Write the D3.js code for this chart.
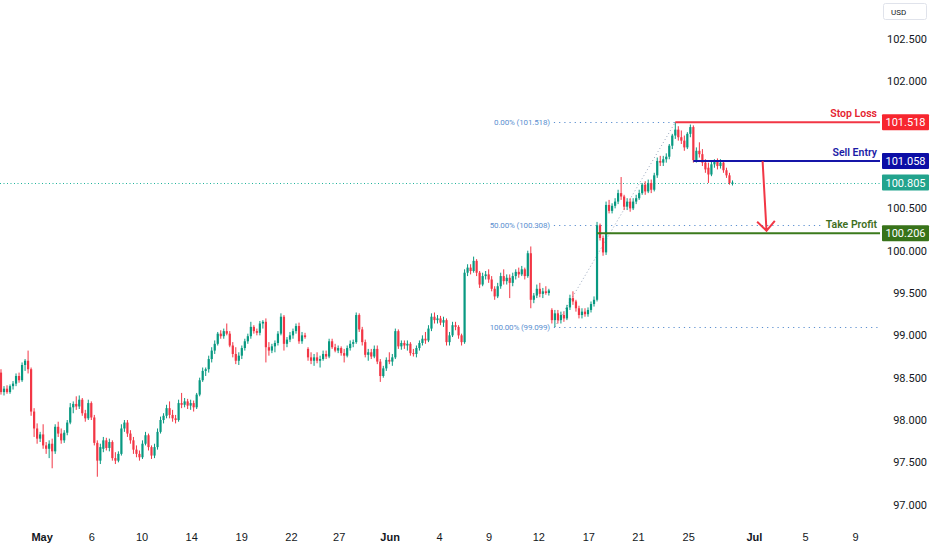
<!DOCTYPE html>
<html>
<head>
<meta charset="utf-8">
<script src="https://cdn.jsdelivr.net/npm/d3@7"></script>
<style>
html,body{margin:0;padding:0;background:#fff;}
svg{display:block;font-family:Roboto,"Liberation Sans",sans-serif;}
</style>
</head>
<body>
<svg id="chart" width="932" height="550"></svg>
<script>
// ---------- DATA ----------
const open = [98.56,98.33,98.37,98.33,98.40,98.43,98.52,98.47,98.65,98.70,98.60,98.10,97.90,97.78,97.83,97.70,97.66,97.72,97.63,97.92,
97.84,97.76,97.85,97.97,98.15,98.19,98.16,98.24,98.08,98.02,98.20,98.03,97.73,97.52,97.66,97.76,97.67,97.74,97.55,97.52,
97.60,97.90,97.97,97.84,97.76,97.65,97.60,97.56,97.72,97.82,97.68,97.58,97.68,97.86,98.00,98.05,98.14,98.06,98.02,98.00,
98.20,98.18,98.22,98.17,98.20,98.15,98.30,98.47,98.58,98.60,98.72,98.82,98.90,99.02,98.99,99.05,99.02,98.88,98.78,98.70,
98.76,98.85,98.93,98.99,99.10,99.05,99.03,99.14,99.16,98.86,98.82,98.87,98.91,99.02,99.22,98.90,98.95,99.00,99.05,99.11,
98.93,99.00,98.84,98.74,98.70,98.74,98.70,98.72,98.78,98.75,98.93,98.86,98.82,98.85,98.79,98.76,98.85,98.90,98.92,99.24,
99.07,98.92,98.77,98.80,98.75,98.84,98.69,98.52,98.61,98.71,98.69,98.74,99.05,98.87,98.91,98.88,98.90,98.79,98.78,98.85,
98.91,98.96,98.94,99.08,99.22,99.18,99.20,99.15,99.18,98.92,99.00,99.12,99.10,99.00,98.92,99.74,99.80,99.76,99.88,99.74,
99.60,99.70,99.72,99.66,99.55,99.46,99.58,99.70,99.64,99.68,99.62,99.70,99.75,99.72,99.78,99.70,99.97,99.42,99.47,99.55,
99.49,99.52,99.50,99.30,99.18,99.26,99.18,99.24,99.20,99.33,99.44,99.40,99.32,99.24,99.28,99.25,99.30,99.37,99.42,100.30,
100.15,99.98,100.54,100.47,100.53,100.58,100.68,100.64,100.52,100.58,100.50,100.58,100.62,100.68,100.78,100.70,100.80,100.72,100.89,101.06,
101.04,101.08,101.11,101.24,101.36,101.43,101.34,101.30,101.22,101.38,101.46,101.07,101.18,101.14,101.04,100.98,100.90,101.02,101.05,101.00,
101.04,100.95,100.89,100.79];
const high = [98.60,98.40,98.41,98.42,98.46,98.55,98.56,98.68,98.72,98.82,98.62,98.14,97.96,97.86,97.95,97.74,97.76,97.78,97.95,97.98,
97.90,97.88,98.00,98.20,98.22,98.28,98.29,98.26,98.12,98.24,98.22,98.06,97.76,97.72,97.80,97.79,97.78,97.76,97.62,97.63,
97.95,98.00,98.00,97.88,97.80,97.70,97.64,97.76,97.86,97.84,97.70,97.72,97.90,98.04,98.08,98.18,98.22,98.12,98.06,98.24,
98.32,98.26,98.25,98.24,98.23,98.32,98.50,98.62,98.62,98.76,98.86,98.94,99.04,99.06,99.08,99.14,99.05,98.92,98.86,98.80,
98.88,98.96,99.02,99.16,99.12,99.08,99.17,99.18,99.20,98.92,98.90,98.94,99.05,99.26,99.24,98.98,99.04,99.08,99.14,99.15,
99.04,99.03,98.86,98.80,98.78,98.80,98.76,98.82,98.82,98.96,98.96,98.90,98.88,98.87,98.84,98.88,98.94,98.95,99.27,99.26,
99.10,98.95,98.84,98.84,98.88,98.88,98.72,98.64,98.74,98.80,98.78,99.08,99.07,98.94,98.94,98.94,98.92,98.84,98.88,98.94,
99.00,99.04,99.12,99.26,99.27,99.24,99.23,99.22,99.20,99.04,99.16,99.16,99.12,99.02,99.78,99.84,99.84,99.93,99.90,99.76,
99.74,99.76,99.78,99.70,99.58,99.62,99.74,99.78,99.72,99.72,99.74,99.78,99.80,99.82,99.80,100.00,100.05,99.50,99.60,99.62,
99.56,99.58,99.55,99.32,99.30,99.30,99.28,99.28,99.36,99.48,99.52,99.42,99.35,99.32,99.32,99.33,99.40,99.46,100.34,100.32,
100.18,100.58,100.60,100.56,100.62,100.72,100.87,100.66,100.62,100.62,100.62,100.66,100.72,100.80,100.82,100.84,100.84,100.92,101.10,101.12,
101.12,101.15,101.26,101.38,101.518,101.47,101.42,101.36,101.40,101.49,101.48,101.22,101.28,101.20,101.08,101.04,101.06,101.08,101.09,101.08,
101.06,100.98,100.92,100.83];
const low = [98.30,98.29,98.31,98.31,98.36,98.40,98.44,98.45,98.58,98.55,98.05,97.80,97.72,97.74,97.66,97.60,97.55,97.43,97.60,97.80,
97.72,97.73,97.82,97.95,98.08,98.12,98.13,98.05,97.98,98.00,98.00,97.70,97.33,97.48,97.62,97.64,97.63,97.52,97.48,97.50,
97.58,97.86,97.80,97.72,97.60,97.56,97.52,97.54,97.70,97.64,97.54,97.55,97.65,97.84,97.96,98.02,98.02,97.98,97.96,97.98,
98.14,98.15,98.13,98.12,98.10,98.13,98.28,98.45,98.52,98.56,98.68,98.78,98.88,98.96,98.96,99.00,98.86,98.74,98.66,98.65,
98.72,98.82,98.90,98.96,99.02,99.00,99.00,99.08,98.68,98.76,98.79,98.80,98.88,99.00,98.82,98.86,98.92,98.96,99.02,98.90,
98.90,98.96,98.70,98.66,98.64,98.67,98.62,98.70,98.72,98.73,98.84,98.80,98.79,98.76,98.68,98.74,98.82,98.86,98.90,99.04,
98.88,98.74,98.70,98.72,98.73,98.66,98.45,98.50,98.58,98.66,98.64,98.72,98.84,98.83,98.84,98.82,98.76,98.75,98.74,98.82,
98.88,98.90,98.92,99.05,99.14,99.14,99.12,99.10,98.88,98.88,98.98,99.06,98.96,98.88,98.90,99.70,99.72,99.74,99.70,99.56,
99.58,99.66,99.62,99.52,99.42,99.44,99.55,99.60,99.60,99.44,99.58,99.66,99.68,99.70,99.66,99.68,99.32,99.38,99.44,99.45,
99.44,99.48,99.47,99.14,99.099,99.14,99.14,99.16,99.18,99.30,99.36,99.28,99.20,99.20,99.22,99.22,99.27,99.34,99.40,100.12,
99.94,99.95,100.44,100.44,100.50,100.55,100.60,100.48,100.48,100.46,100.48,100.55,100.60,100.66,100.66,100.68,100.68,100.70,100.86,101.00,
101.00,101.04,101.08,101.20,101.32,101.30,101.26,101.18,101.20,101.34,101.04,101.04,101.10,101.00,100.92,100.80,100.88,100.98,100.96,100.97,
100.92,100.86,100.78,100.77];
const close = [98.33,98.37,98.33,98.40,98.43,98.52,98.47,98.65,98.70,98.60,98.10,97.90,97.78,97.83,97.70,97.66,97.72,97.63,97.92,97.84,
97.76,97.85,97.97,98.15,98.19,98.16,98.24,98.08,98.02,98.20,98.03,97.73,97.52,97.68,97.76,97.67,97.74,97.55,97.52,97.60,
97.90,97.97,97.84,97.76,97.65,97.60,97.56,97.72,97.82,97.68,97.58,97.68,97.86,98.00,98.05,98.14,98.06,98.02,98.00,98.20,
98.18,98.22,98.17,98.20,98.15,98.30,98.47,98.58,98.60,98.72,98.82,98.90,99.02,98.99,99.05,99.02,98.88,98.78,98.70,98.76,
98.85,98.93,98.99,99.10,99.05,99.03,99.14,99.16,98.86,98.82,98.87,98.91,99.02,99.22,98.90,98.95,99.00,99.05,99.11,98.93,
99.00,98.98,98.74,98.70,98.74,98.70,98.72,98.78,98.75,98.93,98.86,98.82,98.85,98.79,98.76,98.85,98.90,98.92,99.24,99.07,
98.92,98.77,98.80,98.75,98.84,98.69,98.52,98.61,98.71,98.69,98.74,99.05,98.87,98.91,98.88,98.90,98.79,98.78,98.85,98.91,
98.96,98.94,99.08,99.22,99.18,99.20,99.15,99.18,98.92,99.00,99.12,99.10,99.00,98.92,99.74,99.80,99.76,99.88,99.74,99.60,
99.70,99.72,99.66,99.55,99.46,99.58,99.70,99.64,99.68,99.62,99.70,99.75,99.72,99.78,99.70,99.97,99.42,99.47,99.55,99.49,
99.52,99.50,99.53,99.18,99.26,99.18,99.24,99.20,99.33,99.44,99.40,99.32,99.24,99.28,99.25,99.30,99.37,99.42,100.30,100.15,
99.98,100.54,100.47,100.53,100.58,100.68,100.64,100.52,100.58,100.50,100.58,100.62,100.68,100.78,100.70,100.80,100.72,100.89,101.06,101.04,
101.08,101.11,101.24,101.36,101.43,101.34,101.30,101.22,101.38,101.46,101.07,101.18,101.14,101.04,100.96,100.90,101.02,101.05,101.00,101.04,
100.95,100.89,100.80,100.805];

// x-axis tick labels (positioned on the candle index scale)
const xTickIndex  = [13.5, 30, 46.7, 63.2, 79.8, 96.3, 112.2, 129.1, 145.5, 162, 178.5, 195.1, 211.6, 228.3, 250.1, 267.1, 283.7];
const xTickLabels = ["May","6","10","14","19","22","27","Jun","4","9","12","17","21","25","Jul","5","9"];
const monthLabels = ["May","Jun","Jul"];

// y-axis tick values shown
const yTickValues = [102.5, 102.0, 100.5, 100.0, 99.5, 99.0, 98.5, 98.0, 97.5, 97.0];

// trade levels
const levelNames    = ["Stop Loss", "Sell Entry", "Take Profit"];
const levelPrices   = [101.518, 101.058, 100.206];
const levelStartIdx = [224, 230, 198];

// fibonacci retracement
const fibLabels   = ["0.00%", "50.00%", "100.00%"];
const fibPrices   = [101.518, 100.308, 99.099];
const fibAnchorIdx   = [184, 224];
const fibAnchorPrice = [99.099, 101.518];

// projected move arrow
const arrowIdx   = [253, 254.3];
const arrowPrice = [101.058, 100.235];

// ---------- CHART ----------
const W = 932, H = 550, plotRight = 880, plotBottom = 525;
const svg = d3.select("#chart");
const x = d3.scaleLinear().domain([-0.33, 292]).range([0, plotRight]);
const y = d3.scaleLinear().domain([96.76, 102.961]).range([plotBottom, 0]);

const GREEN = "#089981", RED = "#f23645";
const levelLine = ["#f23645", "#1515a8", "#3b7a1c"];
const levelText = ["#e5232f", "#1a1aa6", "#3f6f1e"];
const levelBox  = ["#f7262f", "#0c0ea6", "#38731a"];
const FIB = "#5b8fd0";

svg.append("rect").attr("width", W).attr("height", H).attr("fill", "#fff");

const candles = close.map((c, i) => ({i, o: open[i], h: high[i], l: low[i], c}));

// fibonacci dotted levels
const fibG = svg.append("g");
fibPrices.forEach((p, k) => {
  fibG.append("line")
    .attr("x1", x(fibAnchorIdx[0]) - 1).attr("x2", plotRight)
    .attr("y1", Math.round(y(p)) + 0.5).attr("y2", Math.round(y(p)) + 0.5)
    .attr("stroke", FIB).attr("stroke-width", 1.2).attr("stroke-dasharray", "1.2,4");
  fibG.append("text")
    .attr("x", x(fibAnchorIdx[0]) - 5).attr("y", y(p) + 3)
    .attr("text-anchor", "end").attr("font-size", 8).attr("fill", FIB)
    .attr("letter-spacing", -0.15)
    .text(`${fibLabels[k]} (${p.toFixed(3)})`);
});
fibG.append("line")
  .attr("x1", x(fibAnchorIdx[0])).attr("y1", y(fibAnchorPrice[0]))
  .attr("x2", x(fibAnchorIdx[1])).attr("y2", y(fibAnchorPrice[1]))
  .attr("stroke", "#9aa7bd").attr("stroke-width", 1).attr("stroke-dasharray", "1,2.5");

// current price dotted line
const last = close[close.length - 1];
svg.append("line")
  .attr("x1", 0).attr("x2", plotRight)
  .attr("y1", Math.round(y(last)) + 0.5).attr("y2", Math.round(y(last)) + 0.5)
  .attr("stroke", "#1fb39a").attr("stroke-width", 1).attr("stroke-dasharray", "1,2.5");

// candles
const cg = svg.append("g");
cg.selectAll("line.wick").data(candles).join("line")
  .attr("x1", d => x(d.i)).attr("x2", d => x(d.i))
  .attr("y1", d => y(d.h)).attr("y2", d => y(d.l))
  .attr("stroke", d => d.c >= d.o ? GREEN : RED).attr("stroke-width", 1);
cg.selectAll("rect.body").data(candles).join("rect")
  .attr("x", d => x(d.i) - 1.1).attr("width", 2.2)
  .attr("y", d => y(Math.max(d.o, d.c)))
  .attr("height", d => Math.max(1, Math.abs(y(d.o) - y(d.c))))
  .attr("fill", d => d.c >= d.o ? GREEN : RED);

// trade levels
levelPrices.forEach((p, k) => {
  const yy = y(p);
  const g = svg.append("g");
  g.append("line")
    .attr("x1", x(levelStartIdx[k])).attr("x2", plotRight)
    .attr("y1", yy).attr("y2", yy)
    .attr("stroke", levelLine[k]).attr("stroke-width", 2);
  const bg = g.append("rect").attr("fill", "#fff");
  const t = g.append("text")
    .attr("x", 877).attr("y", yy - 5)
    .attr("text-anchor", "end").attr("font-size", 10.5).attr("font-weight", 600)
    .attr("fill", levelText[k]).text(levelNames[k]);
  const bb = t.node().getBBox();
  bg.attr("x", bb.x - 3).attr("y", bb.y).attr("width", bb.width + 6).attr("height", bb.height);
});

// arrow
const ax0 = x(arrowIdx[0]), ay0 = y(arrowPrice[0]), ax1 = x(arrowIdx[1]), ay1 = y(arrowPrice[1]);
const ang = Math.atan2(ay0 - ay1, ax0 - ax1);
const headLen = 13, spread = Math.PI / 4.2;
svg.append("path")
  .attr("d", `M${ax0},${ay0}L${ax1},${ay1}` +
    `M${ax1 + headLen * Math.cos(ang - spread)},${ay1 + headLen * Math.sin(ang - spread)}L${ax1},${ay1}` +
    `L${ax1 + headLen * Math.cos(ang + spread)},${ay1 + headLen * Math.sin(ang + spread)}`)
  .attr("fill", "none").attr("stroke", RED).attr("stroke-width", 2).attr("stroke-linejoin", "miter");

// y axis
const yAxis = svg.append("g").attr("transform", `translate(${plotRight},0)`)
  .call(d3.axisRight(y).tickValues(yTickValues).tickFormat(d3.format(".3f")).tickSize(0));
yAxis.select(".domain").remove();
yAxis.selectAll("text").attr("x", 47).attr("text-anchor", "end")
  .attr("font-size", 11).attr("fill", "#131722").attr("font-family", "Roboto, sans-serif");

// price boxes
const boxPrices = [levelPrices[0], levelPrices[1], last, levelPrices[2]];
const boxColors = [levelBox[0], levelBox[1], "#22a38d", levelBox[2]];
boxPrices.forEach((p, k) => {
  const yy = y(p);
  svg.append("rect").attr("x", 882).attr("y", yy - 8).attr("width", 47).attr("height", 16)
    .attr("rx", 1).attr("fill", boxColors[k]);
  svg.append("text").attr("x", 905.5).attr("y", yy + 4).attr("text-anchor", "middle")
    .attr("font-size", 11).attr("fill", "#fff").text(p.toFixed(3));
});

// x axis
const xAxis = svg.append("g").attr("transform", `translate(0,${plotBottom})`)
  .call(d3.axisBottom(x).tickValues(xTickIndex).tickFormat((d, i) => xTickLabels[i]).tickSize(0));
xAxis.select(".domain").remove();
xAxis.selectAll("text").attr("dy", "0").attr("y", 16)
  .attr("font-size", 11).attr("fill", "#131722")
  .attr("font-weight", (d, i) => monthLabels.includes(xTickLabels[i]) ? 700 : 400);

// currency box
svg.append("rect").attr("x", 883.5).attr("y", 3.5).attr("width", 43).attr("height", 16)
  .attr("rx", 2).attr("fill", "#fff").attr("stroke", "#e0e3eb");
svg.append("text").attr("x", 891).attr("y", 14.5).attr("font-size", 8).attr("fill", "#131722").text("USD");
</script>
</body>
</html>
